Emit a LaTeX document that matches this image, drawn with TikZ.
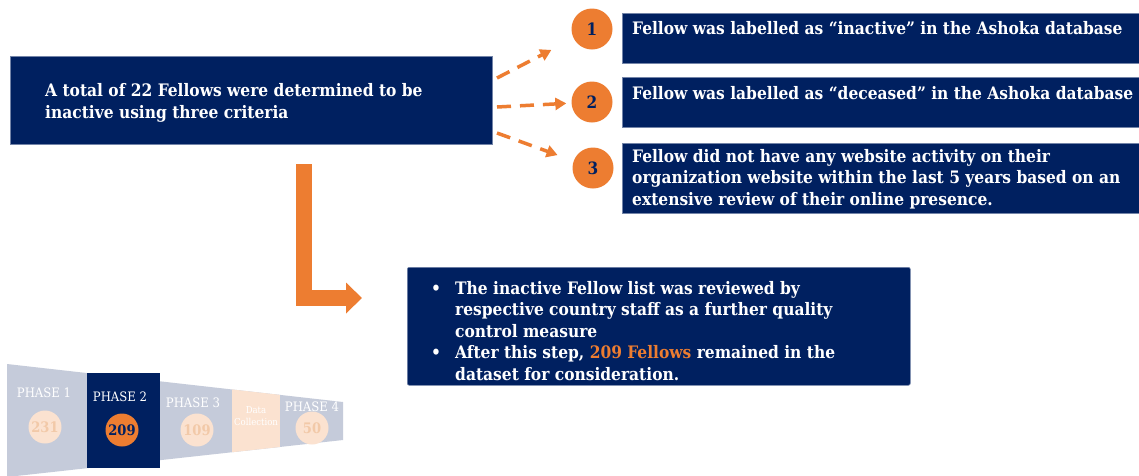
\documentclass[tikz,border=0pt]{standalone}
\usepackage{fontspec}
\setmainfont{DejaVu Serif Condensed}
\usetikzlibrary{arrows.meta}
\definecolor{navy}{HTML}{002060}
\definecolor{accent}{HTML}{ED7D31}
\definecolor{funnel}{HTML}{C5CBDA}
\definecolor{peach}{HTML}{FBE2D0}
\definecolor{peachtext}{HTML}{F2C9A8}
\begin{document}
\begin{tikzpicture}[x=1pt,y=-1pt,
	navybox/.style={fill=navy,draw=navy!55!white,line width=0.6pt,inner sep=0pt,anchor=north west},
	boxtext/.style={text=white,font=\fontsize{17.2}{21.5}\selectfont\bfseries,align=left,anchor=west,inner sep=0pt},
	badge/.style={circle,fill=accent,minimum size=41pt,inner sep=0pt,text=navy,font=\fontsize{17}{17}\selectfont\bfseries},
	dasharrow/.style={accent,line width=3.5pt,dash pattern=on 14pt off 9pt,-{Triangle[length=11pt,width=12pt]}},
	phase/.style={text=white,font=\fontsize{13}{13}\selectfont},
	count/.style={circle,minimum size=33pt,inner sep=0pt,font=\fontsize{14.5}{14.5}\selectfont\bfseries}]
	\fill[white] (0,0) rectangle (1139,475);
	\useasboundingbox (0,0) rectangle (1139,475);

	% criteria
	\node (total) [navybox,minimum width=482pt,minimum height=88pt] at (10,56) {};
	\node (totaltext) [boxtext] at (45,103) {A total of 22 Fellows were determined to be\\inactive using three criteria};

	\node (crit1) [navybox,minimum width=517pt,minimum height=50pt] at (622,13) {};
	\node (crit2) [navybox,minimum width=517pt,minimum height=50pt] at (622,77) {};
	\node (crit3) [navybox,minimum width=517pt,minimum height=70pt] at (622,143) {};
	\node (crit1text) [boxtext] at (632,28) {Fellow was labelled as “inactive” in the Ashoka database};
	\node (crit2text) [boxtext] at (632,93) {Fellow was labelled as “deceased” in the Ashoka database};
	\node (crit3text) [boxtext] at (632,179) {Fellow did not have any website activity on their\\organization website within the last 5 years based on an\\extensive review of their online presence.};

	\node (n1) [badge] at (592,29) {1};
	\node (n2) [badge] at (592,102) {2};
	\node (n3) [badge] at (593,168) {3};

	\coordinate (d1) at (497,78);
	\coordinate (d2) at (497,107);
	\coordinate (d3) at (497,133);
	\draw[dasharrow,shorten >=25pt] (d1) -- (n1);
	\draw[dasharrow,shorten >=5pt] (d2) -- (n2);
	\draw[dasharrow,shorten >=17pt] (d3) -- (n3);

	% review step
	\coordinate (lstart) at (304,164);
	\coordinate (ltip) at (362,298);
	\draw[accent,line width=16pt,-{Triangle[length=16pt,width=30pt]}] (lstart) |- (ltip);

	\node (review) [navybox,rounded corners=2pt,minimum width=503pt,minimum height=118pt] at (407,267) {};
	\node (reviewtext) [boxtext] at (431,331) {\makebox[24pt][l]{•}The inactive Fellow list was reviewed by\\
		\hspace*{24pt}respective country staff as a further quality\\
		\hspace*{24pt}control measure\\
		\makebox[24pt][l]{•}After this step, \textcolor{accent}{209 Fellows} remained in the\\
		\hspace*{24pt}dataset for consideration.};

	% phases
	\fill[funnel] (7,364) -- (343,402) -- (343,440) -- (7,477) -- cycle;
	\begin{scope}
		\clip (7,364) -- (343,402) -- (343,440) -- (7,477) -- cycle;
		\fill[peach] (232,350) rectangle (280,480);
	\end{scope}
	\fill[navy] (87,373) rectangle (160,468);

	\node (p1) [phase] at (44,393) {PHASE 1};
	\node (p2) [phase] at (120,397) {PHASE 2};
	\node (p3) [phase] at (193,403) {PHASE 3};
	\node (p4) [phase] at (312,407) {PHASE 4};
	\node (collect) [text=white,font=\fontsize{9.5}{12}\selectfont,align=center] at (256,416) {Data\\Collection};

	\node (c1) [count,fill=peach,text=peachtext] at (45,427) {231};
	\node (c2) [count,fill=accent,text=navy] at (122,430) {209};
	\node (c3) [count,fill=peach,text=peachtext] at (197,430) {109};
	\node (c4) [count,fill=peach,text=peachtext] at (312,428) {50};
\end{tikzpicture}
\end{document}
